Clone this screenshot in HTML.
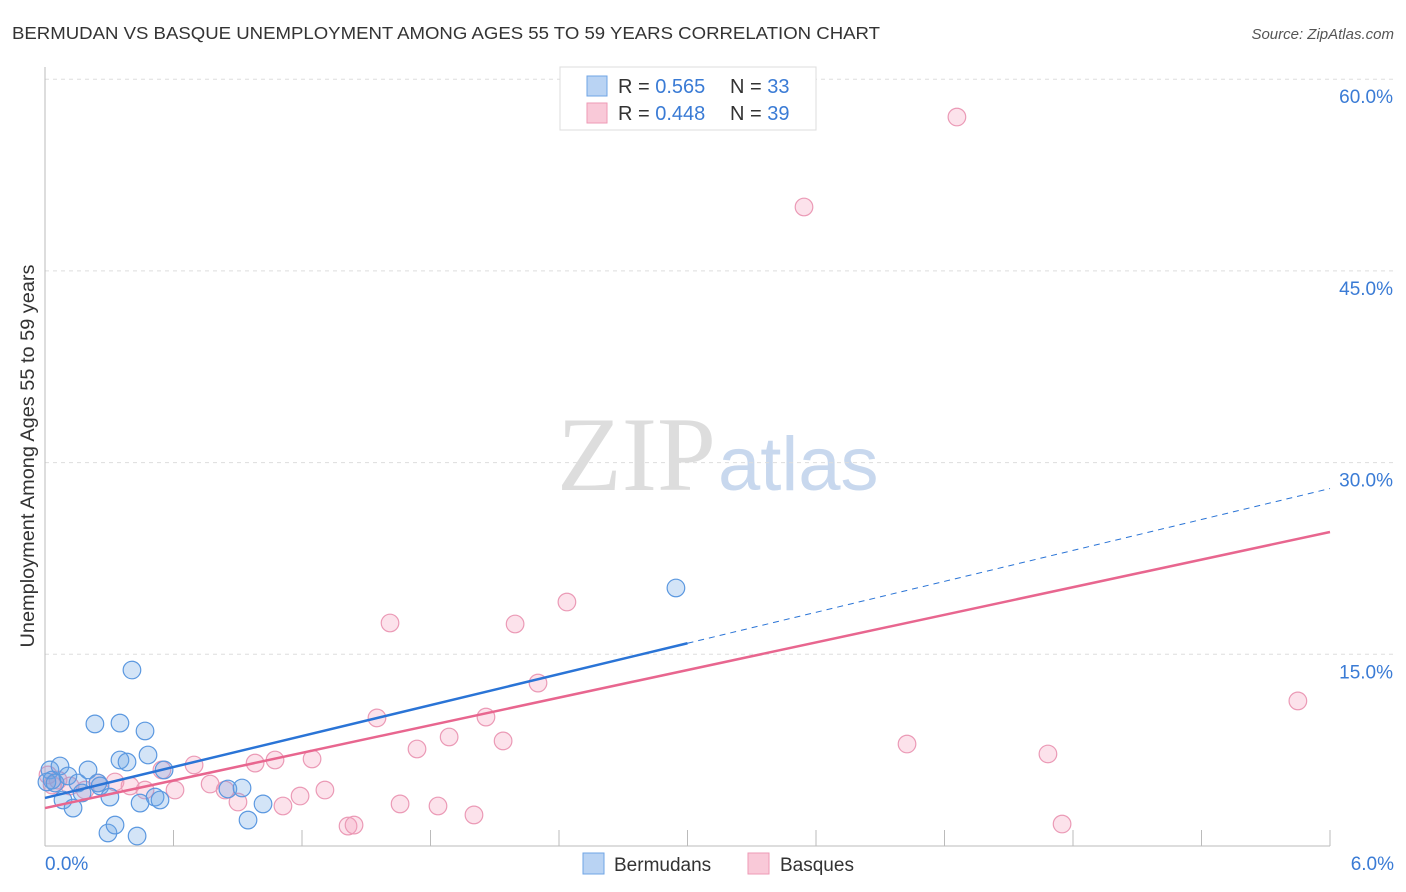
<!DOCTYPE html>
<html><head><meta charset="utf-8"><style>
body{margin:0;background:#fff;font-family:"Liberation Sans",sans-serif;}
svg{display:block}
</style></head><body>
<svg id="chart" width="1406" height="892">
<text x="12" y="39" font-size="17.5" fill="#333" textLength="868" lengthAdjust="spacingAndGlyphs">BERMUDAN VS BASQUE UNEMPLOYMENT AMONG AGES 55 TO 59 YEARS CORRELATION CHART</text>
<text x="1394" y="39" font-size="15" fill="#555" font-style="italic" text-anchor="end">Source: ZipAtlas.com</text>
<text transform="translate(34,456) rotate(-90)" font-size="19" fill="#333" text-anchor="middle" textLength="383" lengthAdjust="spacingAndGlyphs">Unemployment Among Ages 55 to 59 years</text>
<text x="716" y="490" font-size="106" fill="#ddd" font-family="Liberation Serif,serif" text-anchor="end">ZIP</text>
<text x="718" y="490" font-size="76" fill="#c8d8ee">atlas</text>
<g id="grid"></g><g id="axes"></g><g id="marks"></g>
<g>
<rect x="560" y="67" width="256" height="63" fill="#fff" stroke="#ddd"/>
<rect x="587" y="76" width="20" height="20" fill="#b9d3f3" stroke="#6fa4e6"/>
<rect x="587" y="103" width="20" height="20" fill="#f9c9d8" stroke="#ee9ab6"/>
<text x="618" y="93" font-size="20" fill="#333">R = <tspan fill="#3a7bd5">0.565</tspan><tspan x="730">N = </tspan><tspan fill="#3a7bd5">33</tspan></text>
<text x="618" y="120" font-size="20" fill="#333">R = <tspan fill="#3a7bd5">0.448</tspan><tspan x="730">N = </tspan><tspan fill="#3a7bd5">39</tspan></text>
</g>
<g>
<rect x="583" y="853" width="21" height="21" fill="#b9d3f3" stroke="#6fa4e6"/>
<text x="614" y="871" font-size="19" fill="#333">Bermudans</text>
<rect x="748" y="853" width="21" height="21" fill="#f9c9d8" stroke="#ee9ab6"/>
<text x="780" y="871" font-size="19" fill="#333">Basques</text>
</g>
</svg>
<script>
const blueX=[0.023,0.033,0.009,0.047,0.070,0.084,0.107,0.131,0.154,0.173,0.201,0.233,0.247,0.257,0.294,0.303,0.327,0.350,0.350,0.383,0.406,0.430,0.444,0.467,0.481,0.514,0.537,0.556,0.854,0.920,0.948,1.018,2.946];
const blueY=[5.95,5.16,5.01,4.93,6.26,3.60,5.48,2.97,4.93,4.15,5.95,9.55,4.93,4.70,1.02,3.83,1.64,9.62,6.73,6.57,13.77,0.78,3.36,9.00,7.12,3.83,3.60,5.95,4.46,4.54,2.03,3.29,20.19];
const pinkX=[0.014,0.033,0.061,0.117,0.187,0.247,0.327,0.397,0.467,0.546,0.607,0.696,0.771,0.841,0.901,0.981,1.074,1.111,1.191,1.247,1.307,1.415,1.443,1.550,1.611,1.658,1.737,1.835,1.887,2.003,2.059,2.139,2.195,2.302,2.437,3.544,4.025,4.258,4.683,4.749,5.850];
const pinkY=[5.56,4.77,5.16,4.70,4.38,4.93,5.01,4.70,4.38,5.95,4.38,6.34,4.85,4.38,3.44,6.49,6.73,3.13,3.91,6.81,4.38,1.56,1.64,10.02,17.45,3.29,7.59,3.13,8.53,2.43,10.09,8.22,17.37,12.75,19.09,50.0,7.98,57.04,7.20,1.72,11.35];
const blueTrend=[3.76,27.97];
const pinkTrend=[2.97,24.57];
const yTicks=[15,30,45,60];
const yTickLabels=["15.0%","30.0%","45.0%","60.0%"];
const xTickLabels=["0.0%","6.0%"];
const NS="http://www.w3.org/2000/svg";
const X=v=>45+v/6*1285, Y=v=>846-v/15*191.7;
function mk(tag,attrs,parent){const e=document.createElementNS(NS,tag);for(const k in attrs)e.setAttribute(k,attrs[k]);document.getElementById(parent).appendChild(e);return e;}
yTicks.forEach((t,i)=>{
 const g=mk('line',{x1:45,x2:1394,y1:Y(t),y2:Y(t),stroke:'#ddd','stroke-dasharray':'4,4'},'grid');
 
 
 const l=mk('text',{x:1393,y:Y(t)+24,'font-size':19,fill:'#3a7bd5','text-anchor':'end'},'grid');
 l.textContent=yTickLabels[i];
 
 
});
const ax=mk('line',{x1:45,x2:45,y1:67,y2:846,stroke:'#bbb'},'axes');


const bx=mk('line',{x1:45,x2:1330,y1:846,y2:846,stroke:'#bbb'},'axes');


for(let i=1;i<=10;i++){const t=mk('line',{x1:X(i*0.6),x2:X(i*0.6),y1:830,y2:846,stroke:'#bbb'},'axes');
 
 }
[[0,'start',45],[6,'end',1394]].forEach((d,i)=>{const t=mk('text',{x:d[2],y:870,'font-size':19,fill:'#3a7bd5','text-anchor':d[1]},'axes');t.textContent=xTickLabels[i];
 
 });
function dots(xs,ys,fill,stroke,name){xs.forEach((x,i)=>{const c=mk('circle',{cx:X(x),cy:Y(ys[i]),r:8.8,fill:fill,stroke:stroke,'stroke-width':1.2},'marks');
 
 });}
dots(pinkX,pinkY,'rgba(245,160,190,0.3)','#eb9ab6','basque-point');
dots(blueX,blueY,'rgba(110,165,230,0.3)','#5b98e0','bermudan-point');
const by=x=>blueTrend[0]+(blueTrend[1]-blueTrend[0])*x/6, py=x=>pinkTrend[0]+(pinkTrend[1]-pinkTrend[0])*x/6;
const b1=mk('line',{x1:X(0),y1:Y(by(0)),x2:X(3),y2:Y(by(3)),stroke:'#2a74d6','stroke-width':2.5},'marks');


const b2=mk('line',{x1:X(3),y1:Y(by(3)),x2:X(6),y2:Y(by(6)),stroke:'#2a74d6','stroke-width':1,'stroke-dasharray':'6,5'},'marks');


const p1=mk('line',{x1:X(0),y1:Y(py(0)),x2:X(6),y2:Y(py(6)),stroke:'#e8668f','stroke-width':2.5},'marks');


</script>
</body></html>
